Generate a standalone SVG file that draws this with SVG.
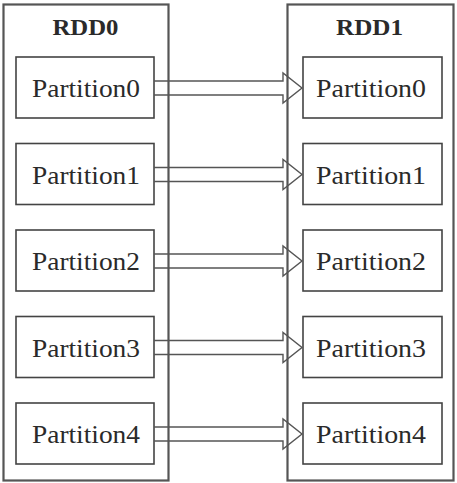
<svg xmlns="http://www.w3.org/2000/svg" width="457" height="483" viewBox="0 0 457 483">
<style>
.outer{fill:none;stroke:#555;stroke-width:2.2}
.box{fill:none;stroke:#444;stroke-width:1.6}
.arrow{fill:none;stroke:#555;stroke-width:1.4;stroke-linejoin:miter}
.title{font-size:23px;font-weight:bold;fill:#2a2a2a;text-anchor:middle}
.lbl{font-size:25px;fill:#2a2a2a;text-anchor:middle}
</style>
<rect width="457" height="483" fill="#fff"/>
<g font-family="Liberation Serif, DejaVu Serif, serif">
<g id="rdd0">
<rect class="outer" x="3.5" y="4.5" width="165" height="476"/>
<text class="title" x="85.5" y="35" textLength="66" lengthAdjust="spacingAndGlyphs">RDD0</text>
</g>
<g id="rdd1">
<rect class="outer" x="287.5" y="4.5" width="166" height="476"/>
<text class="title" x="369.5" y="35" textLength="67" lengthAdjust="spacingAndGlyphs">RDD1</text>
</g>
<g id="rdd0-p0"><rect class="box" x="16" y="57" width="138" height="61"/><text class="lbl" x="86" y="97" textLength="108" lengthAdjust="spacingAndGlyphs">Partition0</text></g>
<g id="rdd0-p1"><rect class="box" x="16" y="143.5" width="138" height="61"/><text class="lbl" x="86" y="183.5" textLength="108" lengthAdjust="spacingAndGlyphs">Partition1</text></g>
<g id="rdd0-p2"><rect class="box" x="16" y="230" width="138" height="61"/><text class="lbl" x="86" y="270" textLength="108" lengthAdjust="spacingAndGlyphs">Partition2</text></g>
<g id="rdd0-p3"><rect class="box" x="16" y="316.5" width="138" height="61"/><text class="lbl" x="86" y="356.5" textLength="108" lengthAdjust="spacingAndGlyphs">Partition3</text></g>
<g id="rdd0-p4"><rect class="box" x="16" y="403" width="138" height="61"/><text class="lbl" x="86" y="443" textLength="108" lengthAdjust="spacingAndGlyphs">Partition4</text></g>
<g id="rdd1-p0"><rect class="box" x="303" y="57" width="139" height="61"/><text class="lbl" x="371" y="97" textLength="110" lengthAdjust="spacingAndGlyphs">Partition0</text></g>
<g id="rdd1-p1"><rect class="box" x="303" y="143.5" width="139" height="61"/><text class="lbl" x="371" y="183.5" textLength="110" lengthAdjust="spacingAndGlyphs">Partition1</text></g>
<g id="rdd1-p2"><rect class="box" x="303" y="230" width="139" height="61"/><text class="lbl" x="371" y="270" textLength="110" lengthAdjust="spacingAndGlyphs">Partition2</text></g>
<g id="rdd1-p3"><rect class="box" x="303" y="316.5" width="139" height="61"/><text class="lbl" x="371" y="356.5" textLength="110" lengthAdjust="spacingAndGlyphs">Partition3</text></g>
<g id="rdd1-p4"><rect class="box" x="303" y="403" width="139" height="61"/><text class="lbl" x="371" y="443" textLength="110" lengthAdjust="spacingAndGlyphs">Partition4</text></g>
</g>
<g id="connectors">
<polyline class="arrow" points="154,81 283,81 283,73 302,88 283,103 283,95 154,95"/>
<polyline class="arrow" points="154,167.5 283,167.5 283,159.5 302,174.5 283,189.5 283,181.5 154,181.5"/>
<polyline class="arrow" points="154,254 283,254 283,246 302,261 283,276 283,268 154,268"/>
<polyline class="arrow" points="154,340.5 283,340.5 283,332.5 302,347.5 283,362.5 283,354.5 154,354.5"/>
<polyline class="arrow" points="154,427 283,427 283,419 302,434 283,449 283,441 154,441"/>
</g>
</svg>
